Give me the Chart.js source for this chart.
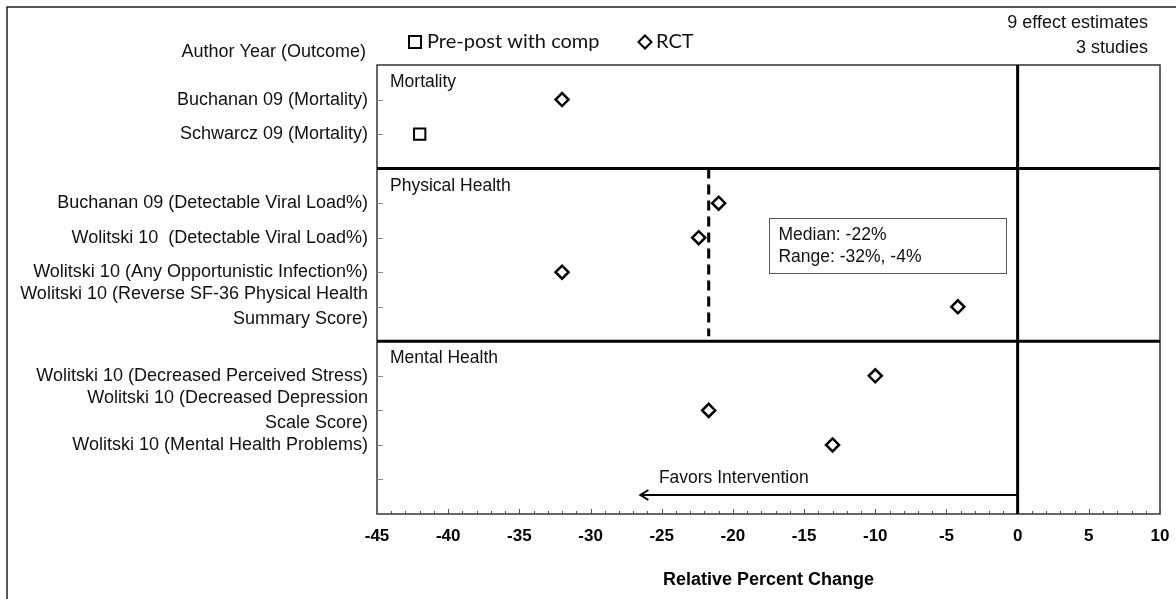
<!DOCTYPE html>
<html>
<head>
<meta charset="utf-8">
<script src="https://cdn.jsdelivr.net/npm/chart.js@4.4.0/dist/chart.umd.min.js"></script>
<style>
  html, body { margin: 0; padding: 0; background: #fff; }
  canvas { display: block; }
</style>
</head>
<body>
<canvas id="forest" width="1176" height="599"></canvas>
<script>
// one entry per row, top to bottom; '' rows are section breaks / spacer
const outcomes = [
  'Buchanan 09 (Mortality)',
  'Schwarcz 09 (Mortality)',
  '',
  'Buchanan 09 (Detectable Viral Load%)',
  'Wolitski 10  (Detectable Viral Load%)',
  'Wolitski 10 (Any Opportunistic Infection%)',
  ['Wolitski 10 (Reverse SF-36 Physical Health', 'Summary Score)'],
  '',
  'Wolitski 10 (Decreased Perceived Stress)',
  ['Wolitski 10 (Decreased Depression', 'Scale Score)'],
  'Wolitski 10 (Mental Health Problems)',
  ''
];
const designs = ['RCT', 'Pre-post with comp', null, 'RCT', 'RCT', 'RCT', 'RCT', null, 'RCT', 'RCT', 'RCT', null];
const effects = [-32, -42, null, -21, -22.4, -32, -4.2, null, -10, -21.7, -13, null];

const sections = ['Mortality', 'Physical Health', 'Mental Health'];
const sectionStarts = [-1, 2, 7];

const medianEffect = -21.7;
const summaryLines = ['Median: -22%', 'Range: -32%, -4%'];
const countLines = ['9 effect estimates', '3 studies'];

const xMin = -45, xMax = 10, xStep = 5;

const FONT = '"Liberation Sans", Arial, sans-serif';

function pointsFor(design) {
  const pts = [];
  effects.forEach((v, i) => {
    if (designs[i] === design && v !== null) pts.push({ x: v, y: i });
  });
  return pts;
}

const forestDecor = {
  id: 'forestDecor',
  beforeDraw(chart) {
    const ctx = chart.ctx;
    ctx.save();
    ctx.strokeStyle = '#222';
    ctx.lineWidth = 1.5;
    ctx.strokeRect(7, 7, chart.width + 20, chart.height + 20);
    ctx.restore();
  },
  beforeDatasetsDraw(chart) {
    const { ctx, chartArea: a, scales: { x, y } } = chart;
    ctx.save();

    // plot frame
    ctx.strokeStyle = '#333';
    ctx.lineWidth = 1.5;
    ctx.strokeRect(a.left, a.top, a.right - a.left, a.bottom - a.top);

    // small ticks along the x axis, one per unit
    ctx.strokeStyle = '#555';
    ctx.lineWidth = 1;
    for (let v = xMin; v <= xMax; v++) {
      const px = Math.round(x.getPixelForValue(v)) + 0.5;
      const len = v % 5 === 0 ? 5 : 3;
      ctx.beginPath();
      ctx.moveTo(px, a.bottom);
      ctx.lineTo(px, a.bottom - len);
      ctx.stroke();
    }
    // y ticks on every outcome row
    ctx.strokeStyle = '#888';
    outcomes.forEach((o, i) => {
      if (sectionStarts.includes(i)) return;
      const py = Math.round(y.getPixelForValue(i)) + 0.5;
      ctx.beginPath();
      ctx.moveTo(a.left, py);
      ctx.lineTo(a.left + 6, py);
      ctx.stroke();
    });

    // section separators
    ctx.strokeStyle = '#000';
    ctx.lineWidth = 3;
    sectionStarts.slice(1).forEach(r => {
      const py = y.getPixelForValue(r);
      ctx.beginPath();
      ctx.moveTo(a.left, py);
      ctx.lineTo(a.right, py);
      ctx.stroke();
    });

    // no-effect line
    const x0 = x.getPixelForValue(0);
    ctx.beginPath();
    ctx.moveTo(x0, a.top);
    ctx.lineTo(x0, a.bottom);
    ctx.stroke();

    // section names
    ctx.fillStyle = '#111';
    ctx.font = '17.5px ' + FONT;
    ctx.textAlign = 'left';
    ctx.textBaseline = 'middle';
    sections.forEach((s, k) => {
      ctx.fillText(s, a.left + 13, y.getPixelForValue(sectionStarts[k] + 0.5));
    });

    // median line across physical health
    const xm = x.getPixelForValue(medianEffect);
    ctx.setLineDash([10, 6]);
    ctx.lineWidth = 3;
    ctx.beginPath();
    ctx.moveTo(xm, y.getPixelForValue(2));
    ctx.lineTo(xm, y.getPixelForValue(6.85));
    ctx.stroke();
    ctx.setLineDash([]);

    // summary box
    const bx1 = x.getPixelForValue(-17.5), bx2 = x.getPixelForValue(-0.85);
    const by1 = y.getPixelForValue(3.43), by2 = y.getPixelForValue(5.03);
    ctx.fillStyle = '#fff';
    ctx.fillRect(bx1, by1, bx2 - bx1, by2 - by1);
    ctx.strokeStyle = '#555';
    ctx.lineWidth = 1;
    ctx.strokeRect(Math.round(bx1) + 0.5, Math.round(by1) + 0.5, Math.round(bx2 - bx1), Math.round(by2 - by1));
    ctx.fillStyle = '#111';
    ctx.fillText(summaryLines[0], x.getPixelForValue(-16.8), y.getPixelForValue(3.93));
    ctx.fillText(summaryLines[1], x.getPixelForValue(-16.8), y.getPixelForValue(4.57));

    // favors intervention arrow
    const ay = y.getPixelForValue(11.45);
    const tip = x.getPixelForValue(-26.5);
    ctx.strokeStyle = '#000';
    ctx.lineWidth = 2;
    ctx.beginPath();
    ctx.moveTo(x0, ay);
    ctx.lineTo(tip, ay);
    ctx.moveTo(tip + 8, ay - 5);
    ctx.lineTo(tip, ay);
    ctx.lineTo(tip + 8, ay + 5);
    ctx.stroke();
    ctx.fillText('Favors Intervention', x.getPixelForValue(-25.2), y.getPixelForValue(10.97));

    ctx.restore();
  },
  afterDraw(chart) {
    const { ctx, chartArea: a } = chart;
    ctx.save();
    ctx.fillStyle = '#111';
    ctx.textBaseline = 'middle';

    ctx.font = '18px ' + FONT;
    ctx.textAlign = 'right';
    ctx.fillText('Author Year (Outcome)', a.left - 11, a.top - 13);
    ctx.fillText(countLines[0], a.right - 12, 23);
    ctx.fillText(countLines[1], a.right - 12, 48);

    // legend
    ctx.textAlign = 'left';
    ctx.font = '20px Lato, "Open Sans", sans-serif';
    ctx.strokeStyle = '#000';
    ctx.fillStyle = '#fff';
    ctx.lineWidth = 2;
    Chart.helpers.drawPoint(ctx, { pointStyle: 'rect', radius: 8.5, borderWidth: 2, rotation: 0 }, 415, 42);
    Chart.helpers.drawPoint(ctx, { pointStyle: 'rectRot', radius: 6.5, borderWidth: 2.5, rotation: 0 }, 645, 42);
    ctx.fillStyle = '#111';
    ctx.fillText('Pre-post with comp', 427, 42);
    ctx.fillText('RCT', 656, 42);
    ctx.restore();
  }
};

new Chart(document.getElementById('forest'), {
  type: 'scatter',
  data: {
    datasets: [
      {
        label: 'Pre-post with comp',
        data: pointsFor('Pre-post with comp'),
        pointStyle: 'rect',
        pointRadius: 8,
        pointBorderWidth: 2,
        pointBackgroundColor: '#fff',
        pointBorderColor: '#000'
      },
      {
        label: 'RCT',
        data: pointsFor('RCT'),
        pointStyle: 'rectRot',
        pointRadius: 6.5,
        pointBorderWidth: 2.5,
        pointBackgroundColor: '#fff',
        pointBorderColor: '#000'
      }
    ]
  },
  options: {
    responsive: false,
    animation: false,
    devicePixelRatio: 1,
    layout: { padding: { top: 65, right: 16, left: 0, bottom: 0 } },
    plugins: { legend: { display: false }, tooltip: { enabled: false } },
    scales: {
      x: {
        type: 'linear',
        min: xMin,
        max: xMax,
        ticks: { stepSize: xStep, padding: 12, color: '#000', font: { family: FONT, size: 17, weight: 'bold' } },
        grid: { display: false, drawTicks: false },
        border: { display: false },
        title: {
          display: true,
          text: 'Relative Percent Change',
          color: '#000',
          font: { family: FONT, size: 18, weight: 'bold' },
          padding: { top: 0, bottom: 8 }
        },
        afterFit(s) { s.height = 85; s.paddingLeft = 0; s.paddingRight = 0; }
      },
      y: {
        type: 'linear',
        min: -1,
        max: 12,
        reverse: true,
        afterBuildTicks(s) { s.ticks = outcomes.map((o, i) => ({ value: i })); },
        ticks: {
          autoSkip: false,
          padding: 9,
          color: '#111',
          font: { family: FONT, size: 18, lineHeight: 1.38 },
          callback: v => outcomes[v] || ''
        },
        grid: { display: false, drawTicks: false },
        border: { display: false },
        afterFit(s) { s.width = 377; }
      }
    }
  },
  plugins: [forestDecor]
});
</script>
</body>
</html>
